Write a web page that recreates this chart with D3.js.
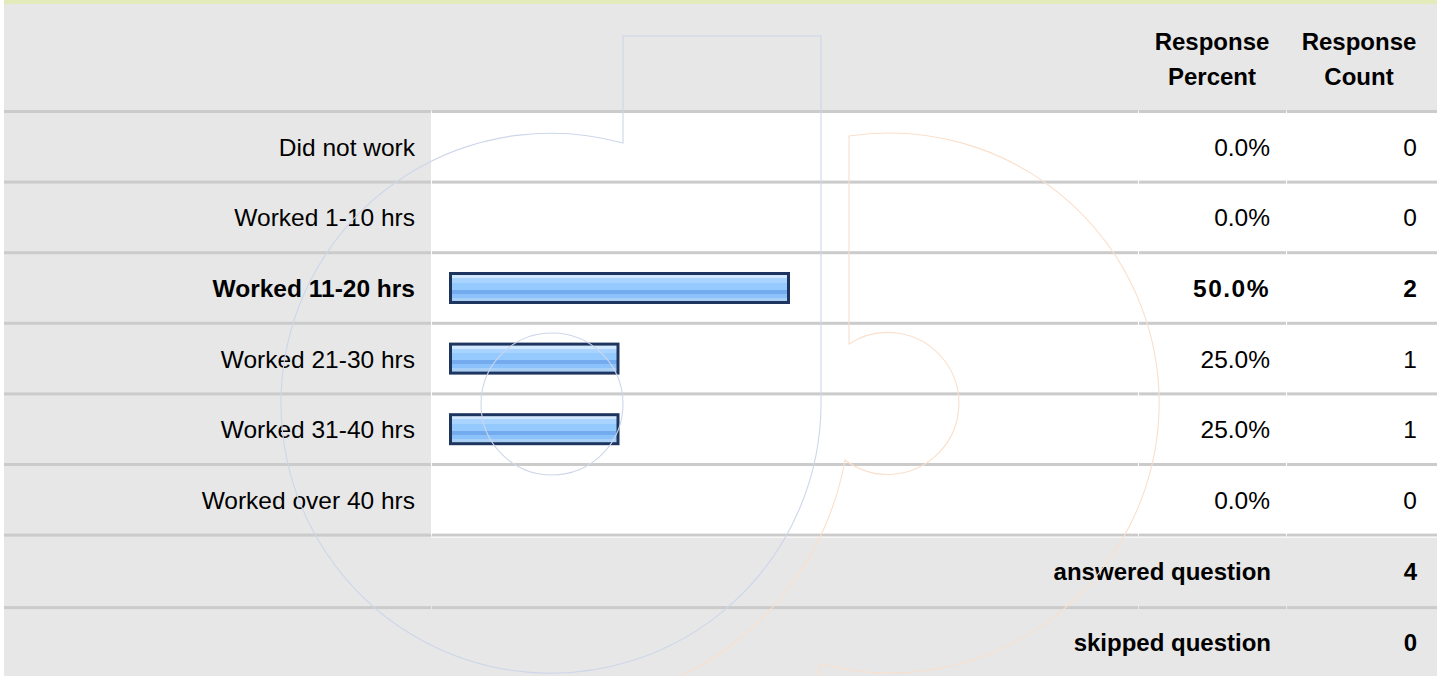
<!DOCTYPE html>
<html>
<head>
<meta charset="utf-8">
<script src="https://cdn.jsdelivr.net/npm/d3@7"></script>
<style>
  body { margin: 0; background: #fff; }
  svg { display: block; font-family: "Liberation Sans", Arial, sans-serif; }
</style>
</head>
<body>
<div id="chart"></div>
<script>
const categories = ["Did not work", "Worked 1-10 hrs", "Worked 11-20 hrs", "Worked 21-30 hrs", "Worked 31-40 hrs", "Worked over 40 hrs"];
const percents = [0.0, 0.0, 50.0, 25.0, 25.0, 0.0];
const counts = [0, 0, 2, 1, 1, 0];
const headerPercent = ["Response", "Percent"];
const headerCount = ["Response", "Count"];
const footerLabels = ["answered question", "skipped question"];
const footerValues = [4, 0];

const width = 1437, height = 676;
const left = 4;
const colLabel = 431, colPct = 1138, colCount = 1286;
const headerTop = 4, headerBottom = 111.5;
const rowH = 70.6;

const svg = d3.select("#chart").append("svg")
  .attr("width", width)
  .attr("height", height);

const defs = svg.append("defs");
const grad = defs.append("linearGradient")
  .attr("id", "barFill")
  .attr("x1", 0).attr("y1", 0).attr("x2", 0).attr("y2", 1);
[
  [0, "#d2e8ff"], [0.12, "#d2e8ff"], [0.12, "#a9d4ff"], [0.3, "#a9d4ff"],
  [0.3, "#95caff"], [0.56, "#95caff"], [0.56, "#73abee"], [0.72, "#73abee"],
  [0.72, "#8cc2fb"], [0.88, "#8cc2fb"], [0.88, "#a9cff5"], [1, "#a9cff5"]
].forEach(s => grad.append("stop").attr("offset", s[0]).attr("stop-color", s[1]));

const y = d3.scaleBand()
  .domain(categories)
  .range([headerBottom, headerBottom + rowH * categories.length])
  .padding(0);

const x = d3.scaleLinear()
  .domain([0, 100])
  .range([449, 1131]);

const dataBottom = headerBottom + rowH * categories.length;
const footerY = footerLabels.map((d, i) => dataBottom + i * 72.5);
const maxPct = d3.max(percents);

// backgrounds
svg.append("rect").attr("x", left).attr("y", 0).attr("width", width - left).attr("height", headerTop)
  .attr("fill", "#e3ebbb");
svg.append("rect").attr("x", left).attr("y", headerTop).attr("width", width - left).attr("height", height - headerTop)
  .attr("fill", "#e7e7e7");
svg.append("rect").attr("x", colLabel).attr("y", headerBottom).attr("width", width - colLabel)
  .attr("height", dataBottom - headerBottom).attr("fill", "#fff");

// separators
const seps = [headerBottom].concat(categories.map(c => y(c) + y.bandwidth()), footerY[1]);
const segs = [[left, colLabel], [colLabel + 1, colPct], [colPct + 1, colCount], [colCount + 1, width]];
seps.forEach(sy => {
  svg.append("g").selectAll("rect")
    .data(segs)
    .join("rect")
      .attr("x", d => d[0])
      .attr("y", sy - 1.5)
      .attr("width", d => d[1] - d[0])
      .attr("height", 3)
      .attr("fill", "#cbcbcb");
});
svg.append("rect").attr("x", colLabel).attr("y", dataBottom + 1.5).attr("width", width - colLabel)
  .attr("height", 1).attr("fill", "#fff");

// header
const head = svg.append("g").attr("font-weight", "bold").attr("font-size", 24).attr("text-anchor", "middle").attr("fill", "#000");
headerPercent.forEach((t, i) => head.append("text").attr("x", 1212).attr("y", 50 + i * 35).text(t));
headerCount.forEach((t, i) => head.append("text").attr("x", 1359).attr("y", 50 + i * 35).text(t));

// rows
const rows = svg.append("g").selectAll("g")
  .data(categories.map((c, i) => ({cat: c, pct: percents[i], count: counts[i]})))
  .join("g")
    .attr("transform", d => `translate(0,${y(d.cat) + y.bandwidth() / 2})`)
    .attr("font-size", 24.5)
    .attr("font-weight", d => d.pct === maxPct ? "bold" : "normal");

rows.append("text")
  .attr("x", 415).attr("y", 9)
  .attr("text-anchor", "end")
  .text(d => d.cat);

rows.append("text")
  .attr("x", 1270).attr("y", 9)
  .attr("text-anchor", "end")
  .attr("letter-spacing", d => d.pct === maxPct ? 1.5 : 0)
  .text(d => d.pct.toFixed(1) + "%");

rows.append("text")
  .attr("x", 1417).attr("y", 9)
  .attr("text-anchor", "end")
  .text(d => d.count);

const bars = rows.filter(d => d.pct > 0);
bars.append("rect")
  .attr("x", x(0)).attr("y", -16)
  .attr("width", d => x(d.pct) - x(0))
  .attr("height", 32)
  .attr("fill", "#1e365f");
bars.append("rect")
  .attr("x", x(0) + 3).attr("y", -13)
  .attr("width", d => x(d.pct) - x(0) - 6)
  .attr("height", 26)
  .attr("fill", "url(#barFill)");

// footer
const foot = svg.append("g").attr("font-weight", "bold").attr("font-size", 24).attr("text-anchor", "end");
footerLabels.forEach((t, i) => {
  const cy = i === 0 ? 580 : 651;
  foot.append("text").attr("x", 1271).attr("y", cy).text(t);
  foot.append("text").attr("x", 1417).attr("y", cy).text(footerValues[i]);
});

// faint logo watermark
const wm = svg.append("g").attr("fill", "none").attr("stroke-width", 1.1);
wm.append("path")
  .attr("d", "M623,143 A270,270 0 1 0 821,403 L821,36 L623,36 Z")
  .attr("stroke", "#cdd6ea");
wm.append("circle").attr("cx", 552).attr("cy", 404).attr("r", 71).attr("stroke", "#cdd6ea");
wm.append("path")
  .attr("d", "M820,664 A270,270 0 1 0 849,136 L849,344 A71,71 0 1 1 845,460 A299,299 0 0 1 672,680 M820,664 L818,680")
  .attr("stroke", "#fadfcb");
</script>
</body>
</html>
